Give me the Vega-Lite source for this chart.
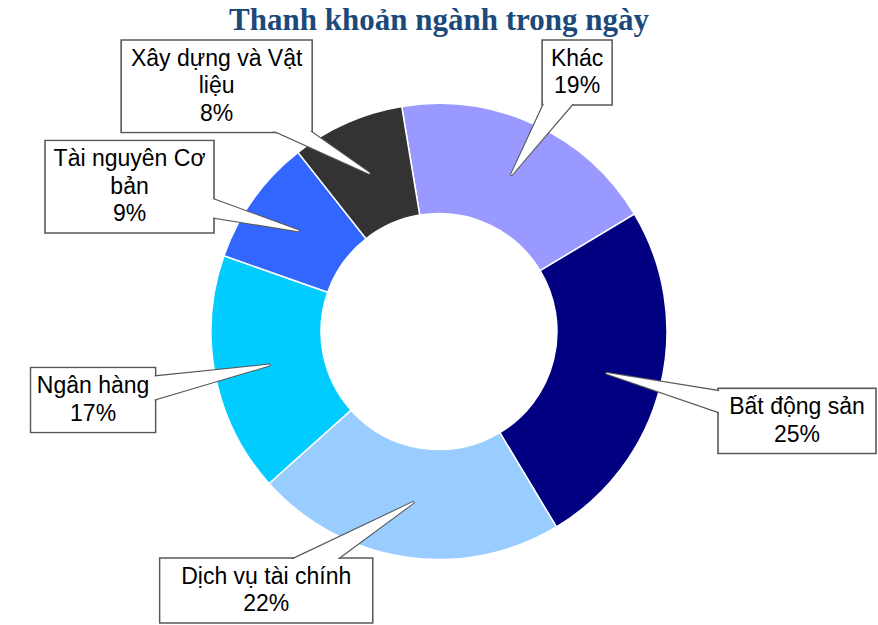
{
  "$schema": "https://vega.github.io/schema/vega-lite/v6.json",
  "autosize": "none",
  "width": 878,
  "height": 587,
  "padding": {"top": 38, "left": 0, "right": 0, "bottom": 0},
  "background": "white",
  "config": {"view": {"stroke": null}},
  "title": {
    "text": "Thanh khoản ngành trong ngày",
    "font": "Liberation Serif",
    "fontSize": 31,
    "fontWeight": "bold",
    "color": "#1B4A7A",
    "anchor": "middle",
    "offset": 1
  },
  "data": {
    "values": [
      {"sector": "Khác", "value": 19},
      {"sector": "Bất động sản", "value": 25},
      {"sector": "Dịch vụ tài chính", "value": 22},
      {"sector": "Ngân hàng", "value": 17},
      {"sector": "Tài nguyên Cơ bản", "value": 9},
      {"sector": "Xây dựng và Vật liệu", "value": 8}
    ]
  },
  "transform": [
    {"window": [{"op": "row_number", "as": "rank"}]},
    {"joinaggregate": [{"op": "sum", "field": "value", "as": "total"}]},
    {"window": [{"op": "sum", "field": "value", "as": "cum"}], "sort": [{"field": "rank"}], "frame": [null, 0]},
    {"calculate": "-0.164 + 2 * PI * (datum.cum - datum.value / 2) / datum.total", "as": "mid"},
    {"calculate": "replace(replace(datum.sector, 'Vật liệu', 'Vật\\nliệu'), 'Cơ bản', 'Cơ\\nbản') + '\\n' + datum.value + '%'", "as": "label"},
    {"calculate": "split(datum.label, '\\n')", "as": "lines"},
    {"calculate": "length(datum.lines[0]) * 11 + 26", "as": "bw"},
    {"calculate": "length(datum.lines) * 27.5 + 10", "as": "bh"},
    {"calculate": "sin(datum.mid) < 0 ? -1 : 1", "as": "sgn"},
    {"calculate": "285 + abs(sin(datum.mid)) * datum.bw / 2 + abs(cos(datum.mid)) * datum.bh / 2", "as": "br"},
    {"calculate": "clamp(datum.br * cos(datum.mid), -291.5 + datum.bh / 2, 291.5 - datum.bh / 2)", "as": "cy0"},
    {
      "window": [
        {"op": "lead", "field": "cy0", "as": "ncy"},
        {"op": "lead", "field": "bh", "as": "nbh"},
        {"op": "lead", "field": "sgn", "as": "nsgn"},
        {"op": "lag", "field": "cy0", "as": "pcy"},
        {"op": "lag", "field": "bh", "as": "pbh"},
        {"op": "lag", "field": "sgn", "as": "psgn"}
      ],
      "sort": [{"field": "rank"}]
    },
    {"calculate": "datum.sgn < 0 ? (isValid(datum.ncy) && datum.nsgn < 0 ? min(datum.cy0, datum.ncy - datum.nbh / 2 - 8 - datum.bh / 2) : datum.cy0) : (isValid(datum.pcy) && datum.psgn > 0 ? min(datum.cy0, datum.pcy - datum.pbh / 2 - 8 - datum.bh / 2) : datum.cy0)", "as": "cy"},
    {"calculate": "max(0, abs(datum.cy) - datum.bh / 2)", "as": "edy"},
    {"calculate": "clamp(datum.sgn * max(abs(datum.br * sin(datum.mid)), sqrt(max(0, 236 * 236 - datum.edy * datum.edy)) + datum.bw / 2), -437 + datum.bw / 2, 437 - datum.bw / 2)", "as": "cx"},
    {"calculate": "datum.cy + (length(datum.lines) - 1) * 27.5 / 2", "as": "ty"},
    {"calculate": "173 * sin(datum.mid)", "as": "sx"},
    {"calculate": "173 * cos(datum.mid)", "as": "sy"},
    {"calculate": "datum.cx - datum.bw / 2", "as": "bx1"},
    {"calculate": "datum.cx + datum.bw / 2", "as": "bx2"},
    {"calculate": "datum.cy - datum.bh / 2", "as": "by1"},
    {"calculate": "datum.cy + datum.bh / 2", "as": "by2"},
    {"calculate": "datum.bx1 + 1", "as": "ix1"},
    {"calculate": "datum.bx2 - 1", "as": "ix2"},
    {"calculate": "datum.by1 + 1", "as": "iy1"},
    {"calculate": "datum.by2 - 1", "as": "iy2"}
  ],
  "layer": [
    {
      "mark": {"type": "arc", "outerRadius": 228, "innerRadius": 118, "stroke": "white", "strokeWidth": 1.5},
      "encoding": {
        "theta": {"field": "value", "type": "quantitative", "stack": true, "scale": {"range": [-0.164, 6.119]}},
        "order": {"field": "rank", "type": "quantitative"},
        "color": {
          "field": "sector",
          "type": "nominal",
          "legend": null,
          "scale": {
            "domain": ["Khác", "Bất động sản", "Dịch vụ tài chính", "Ngân hàng", "Tài nguyên Cơ bản", "Xây dựng và Vật liệu"],
            "range": ["#9999FF", "#000080", "#99CCFF", "#00CCFF", "#3366FF", "#333333"]
          }
        }
      }
    },
    {
      "mark": {"type": "rect", "fill": "white", "stroke": "#595959", "strokeWidth": 1.6},
      "encoding": {
        "x": {"field": "bx1", "type": "quantitative", "axis": null, "scale": {"domain": [-439, 439], "nice": false, "zero": false}},
        "x2": {"field": "bx2"},
        "y": {"field": "by1", "type": "quantitative", "axis": null, "scale": {"domain": [-293.5, 293.5], "nice": false, "zero": false}},
        "y2": {"field": "by2"}
      }
    },
    {
      "transform": [
        {"calculate": "0", "as": "p0"},
        {"calculate": "1", "as": "p1"},
        {"fold": ["p0", "p1"], "as": ["pt", "pv"]},
        {"calculate": "datum.pv == 0 ? datum.sx : datum.cx", "as": "px"},
        {"calculate": "datum.pv == 0 ? datum.sy : datum.cy", "as": "py"},
        {"calculate": "datum.pv == 0 ? 3 : 37", "as": "pw"}
      ],
      "mark": {"type": "trail", "color": "#595959"},
      "encoding": {
        "x": {"field": "px", "type": "quantitative", "axis": null, "scale": {"domain": [-439, 439], "nice": false, "zero": false}},
        "y": {"field": "py", "type": "quantitative", "axis": null, "scale": {"domain": [-293.5, 293.5], "nice": false, "zero": false}},
        "size": {"field": "pw", "type": "quantitative", "scale": null, "legend": null},
        "detail": {"field": "sector", "type": "nominal"},
        "order": {"field": "pv", "type": "quantitative"}
      }
    },
    {
      "transform": [
        {"calculate": "0", "as": "p0"},
        {"calculate": "1", "as": "p1"},
        {"fold": ["p0", "p1"], "as": ["pt", "pv"]},
        {"calculate": "datum.pv == 0 ? datum.sx : datum.cx", "as": "px"},
        {"calculate": "datum.pv == 0 ? datum.sy : datum.cy", "as": "py"},
        {"calculate": "datum.pv == 0 ? 0 : 34", "as": "pw"}
      ],
      "mark": {"type": "trail", "color": "white"},
      "encoding": {
        "x": {"field": "px", "type": "quantitative", "axis": null, "scale": {"domain": [-439, 439], "nice": false, "zero": false}},
        "y": {"field": "py", "type": "quantitative", "axis": null, "scale": {"domain": [-293.5, 293.5], "nice": false, "zero": false}},
        "size": {"field": "pw", "type": "quantitative", "scale": null, "legend": null},
        "detail": {"field": "sector", "type": "nominal"},
        "order": {"field": "pv", "type": "quantitative"}
      }
    },
    {
      "mark": {"type": "rect", "fill": "white", "strokeWidth": 0},
      "encoding": {
        "x": {"field": "ix1", "type": "quantitative", "axis": null, "scale": {"domain": [-439, 439], "nice": false, "zero": false}},
        "x2": {"field": "ix2"},
        "y": {"field": "iy1", "type": "quantitative", "axis": null, "scale": {"domain": [-293.5, 293.5], "nice": false, "zero": false}},
        "y2": {"field": "iy2"}
      }
    },
    {
      "mark": {"type": "text", "font": "Liberation Sans", "fontSize": 23, "lineBreak": "\n", "lineHeight": 27.5, "color": "black", "align": "center", "baseline": "middle"},
      "encoding": {
        "x": {"field": "cx", "type": "quantitative", "axis": null, "scale": {"domain": [-439, 439], "nice": false, "zero": false}},
        "y": {"field": "ty", "type": "quantitative", "axis": null, "scale": {"domain": [-293.5, 293.5], "nice": false, "zero": false}},
        "text": {"field": "label", "type": "nominal"}
      }
    }
  ]
}
